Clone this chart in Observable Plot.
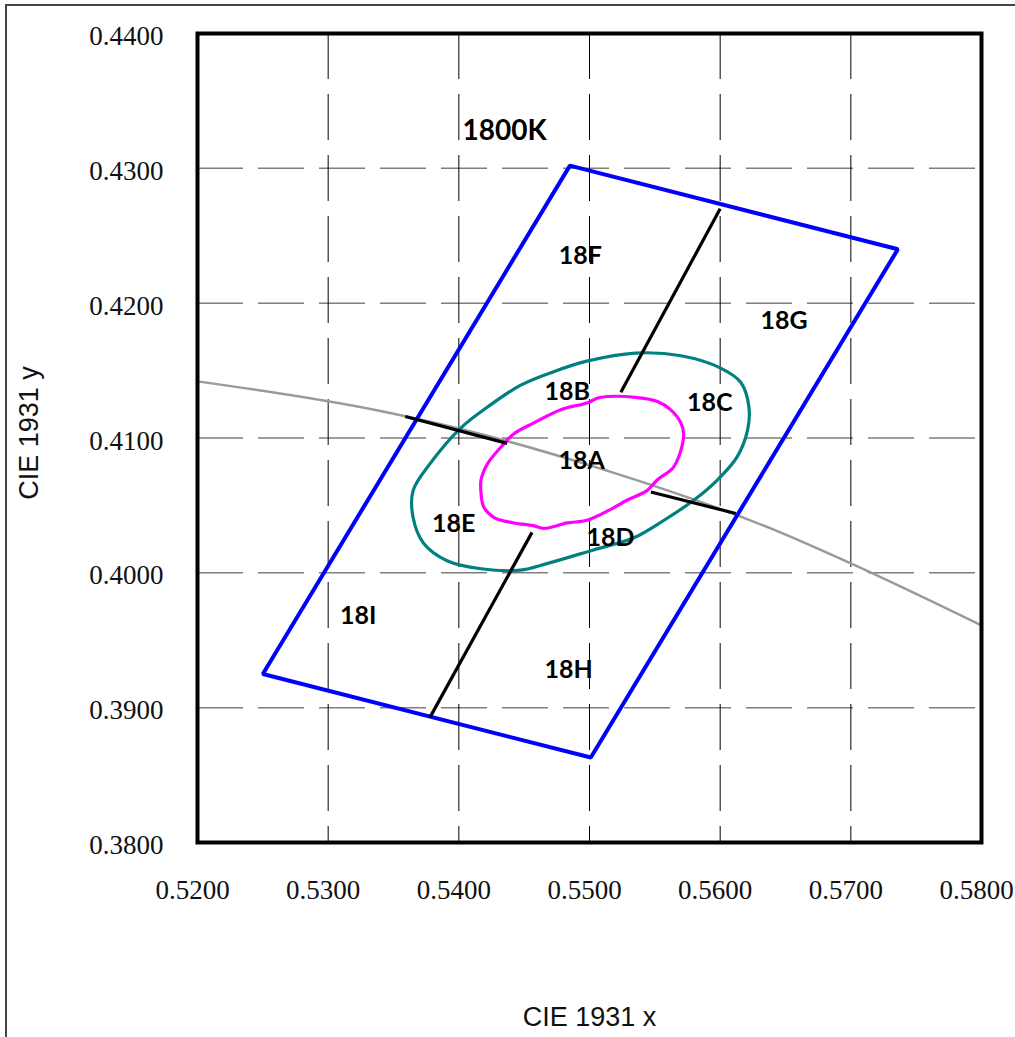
<!DOCTYPE html>
<html>
<head>
<meta charset="utf-8">
<script src="https://cdn.jsdelivr.net/npm/d3@7"></script>
<script src="https://cdn.jsdelivr.net/npm/@observablehq/plot@0.6"></script>
<style>
  body { margin: 0; background: #fff; }
  #wrap { position: relative; width: 1015px; height: 1037px; overflow: hidden; }
  #border { position: absolute; left: 5px; top: 4px; width: 1200px; height: 1200px;
            border-top: 2px solid #444; border-left: 2px solid #444; pointer-events: none; }
</style>
</head>
<body>
<div id="wrap"><div id="chart"></div><div id="border"></div></div>
<script>
// Axis ticks (CIE 1931 chromaticity)
const xTicks = [0.52, 0.53, 0.54, 0.55, 0.56, 0.57, 0.58];
const yTicks = [0.38, 0.39, 0.40, 0.41, 0.42, 0.43, 0.44];

// Blackbody (Planckian) locus through the window
const locusX = [0.5200, 0.5340, 0.5400, 0.5496, 0.5646, 0.5700, 0.5800];
const locusY = [0.4142, 0.4120, 0.4107, 0.4081, 0.4030, 0.4007, 0.3961];

// 1800K bin quadrangle corners
const quadX = [0.5485, 0.5736, 0.5501, 0.5250];
const quadY = [0.4302, 0.4240, 0.3863, 0.3925];

// Outer ellipse (teal)
const outerX = [0.5535, 0.5570, 0.5600, 0.5616, 0.5622, 0.5621, 0.5613, 0.5598, 0.5580, 0.5557,
                0.5534, 0.5503, 0.5468, 0.5447, 0.5417, 0.5391, 0.5373, 0.5365, 0.5365, 0.5378,
                0.5401, 0.5422, 0.5447, 0.5472, 0.5498];
const outerY = [0.4163, 0.4161, 0.4152, 0.4141, 0.4123, 0.4106, 0.4086, 0.4069, 0.4054, 0.4039,
                0.4026, 0.4017, 0.4007, 0.4002, 0.4003, 0.4009, 0.4022, 0.4041, 0.4061, 0.4081,
                0.4107, 0.4123, 0.4139, 0.4149, 0.4157];

// Inner ellipse (magenta)
const innerX = [0.5508, 0.5537, 0.5552, 0.5562, 0.5570, 0.5572, 0.5570, 0.5564, 0.5552, 0.5544,
                0.5529, 0.5514, 0.5498, 0.5483, 0.5465, 0.5457, 0.5442, 0.5427, 0.5419, 0.5417,
                0.5417, 0.5422, 0.5432, 0.5442, 0.5457, 0.5478, 0.5498];
const innerY = [0.4130, 0.4130, 0.4127, 0.4121, 0.4111, 0.4103, 0.4091, 0.4078, 0.4069, 0.4061,
                0.4054, 0.4046, 0.4039, 0.4037, 0.4033, 0.4035, 0.4037, 0.4041, 0.4049, 0.4059,
                0.4069, 0.4081, 0.4093, 0.4103, 0.4111, 0.4121, 0.4126];

// Divider segments between sub-bins
const segX1 = [0.5600, 0.5359, 0.5547, 0.5456];
const segY1 = [0.4270, 0.4116, 0.4060, 0.4030];
const segX2 = [0.5524, 0.5437, 0.5612, 0.5378];
const segY2 = [0.4134, 0.4096, 0.4044, 0.3893];

// Bin labels
const binNames = ["18F", "18G", "18B", "18C", "18A", "18E", "18D", "18I", "18H"];
const binX = [0.5493, 0.5649, 0.5483, 0.5592, 0.5494, 0.5396, 0.5516, 0.5323, 0.5484];
const binY = [0.4235, 0.4187, 0.4134, 0.4126, 0.4083, 0.4036, 0.4026, 0.3968, 0.3928];
const cctLabel = ["1800K"];
const cctX = [0.5435];
const cctY = [0.4328];

const pts = (xs, ys) => xs.map((x, i) => ({x, y: ys[i]}));
const idx = arr => arr.map((_, i) => i);

const chart = Plot.plot({
  width: 1015,
  height: 1037,
  marginLeft: 197,
  marginRight: 34,
  marginTop: 33,
  marginBottom: 195,
  x: {domain: [0.52, 0.58]},
  y: {domain: [0.38, 0.44]},
  style: {background: "white", overflow: "visible"},
  marks: [
    Plot.gridY(yTicks.slice(1, -1), {stroke: "#7f7f7f", strokeOpacity: 1, strokeWidth: 1.5, strokeDasharray: "46,15"}),
    Plot.gridX(xTicks.slice(1, -1), {stroke: "#000", strokeOpacity: 1, strokeWidth: 1, strokeDasharray: "46,15"}),
    Plot.axisX(xTicks, {tickFormat: d3.format(".4f"), tickSize: 0, tickPadding: 37, dx: -5,
      fontSize: 27, fontFamily: "Liberation Serif", fill: "#111", label: null}),
    Plot.axisY(yTicks, {tickFormat: d3.format(".4f"), tickSize: 0, tickPadding: 34, dy: 3,
      fontSize: 27, fontFamily: "Liberation Serif", fill: "#111", label: null}),
    Plot.line(pts(locusX, locusY), {x: "x", y: "y", stroke: "#9a9a9a", strokeWidth: 2.5, curve: "monotone-x"}),
    Plot.line(pts(outerX, outerY), {x: "x", y: "y", stroke: "#008080", strokeWidth: 3.2, curve: "catmull-rom-closed"}),
    Plot.line(pts(innerX, innerY), {x: "x", y: "y", stroke: "#ff00ff", strokeWidth: 3.2, curve: "catmull-rom-closed"}),
    Plot.line(pts(quadX, quadY), {x: "x", y: "y", stroke: "#0000ff", strokeWidth: 4, curve: "linear-closed", strokeLinejoin: "miter"}),
    Plot.link(idx(segX1), {x1: i => segX1[i], y1: i => segY1[i], x2: i => segX2[i], y2: i => segY2[i],
      stroke: "#000", strokeWidth: 3.2}),
    Plot.text(binNames, {x: (d, i) => binX[i], y: (d, i) => binY[i], text: d => d,
      fontSize: 25, fontWeight: "bold", fontFamily: "Lato", fill: "#000"}),
    Plot.text(cctLabel, {x: (d, i) => cctX[i], y: (d, i) => cctY[i], text: d => d,
      fontSize: 28, fontWeight: "bold", fontFamily: "Lato", fill: "#000"}),
    Plot.text(["CIE 1931 x"], {frameAnchor: "bottom", dy: 175, lineAnchor: "middle", textAnchor: "middle",
      text: d => d, fontSize: 27, fontFamily: "Liberation Sans", fill: "#111"}),
    Plot.text(["CIE 1931 y"], {frameAnchor: "left", dx: -168, dy: -5, rotate: -90, textAnchor: "middle",
      lineAnchor: "middle", text: d => d, fontSize: 27, fontFamily: "Liberation Sans", fill: "#111"}),
    Plot.frame({stroke: "#000", strokeWidth: 4})
  ]
});

document.getElementById("chart").appendChild(chart);
</script>
</body>
</html>
